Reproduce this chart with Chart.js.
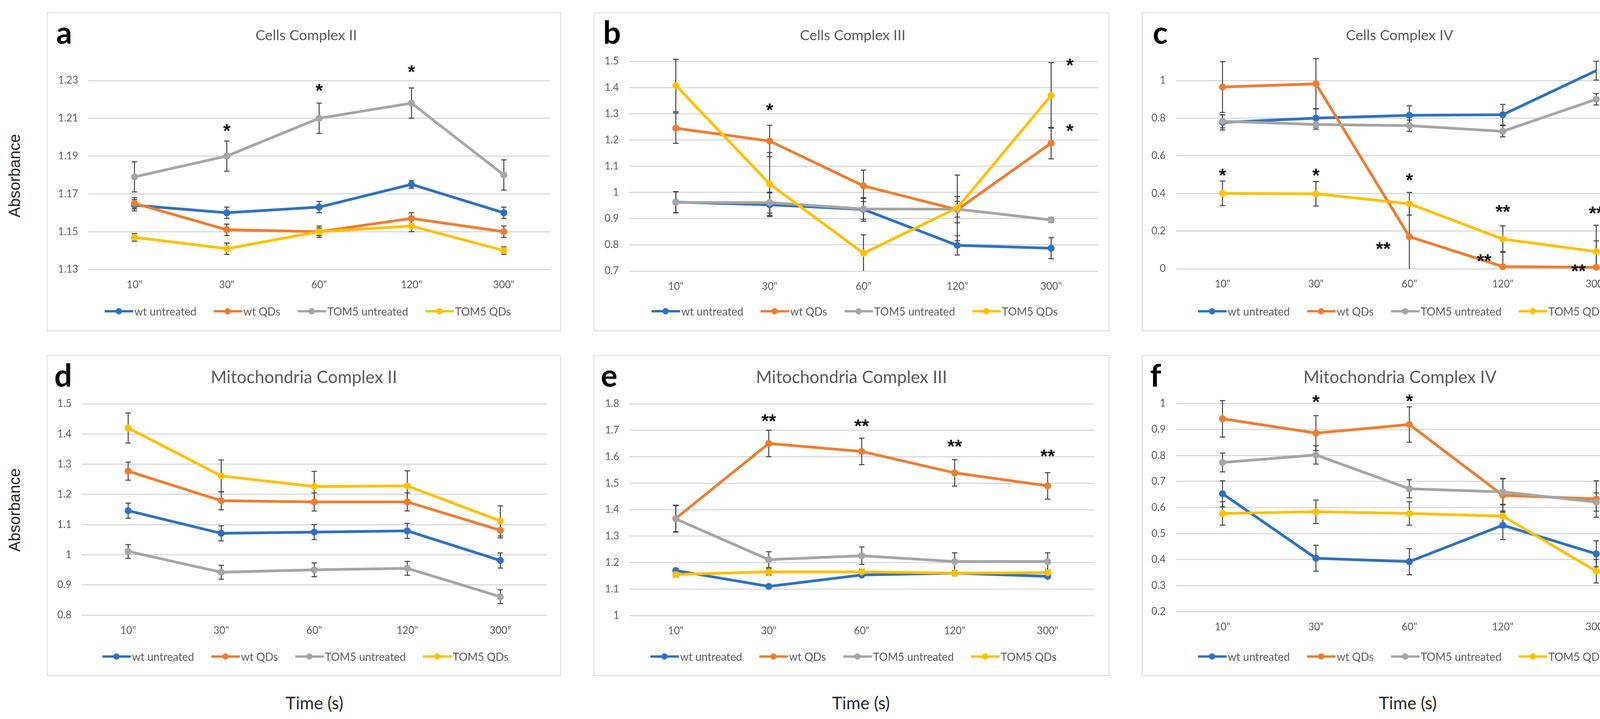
<!DOCTYPE html>
<html>
<head>
<meta charset="utf-8">
<script src="https://cdn.jsdelivr.net/npm/chart.js@4.4.1/dist/chart.umd.min.js"></script>
<style>
  body { margin: 0; background: #fff; width: 4274px; height: 1841px; position: relative; overflow: hidden; font-family: Lato, "Open Sans", sans-serif; }
  .frame { position: absolute; box-sizing: border-box; border: 2px solid #d9d9d9; }
  .box { position: absolute; }
  .letter { position: absolute; font-weight: bold; font-size: 80px; line-height: 1; color: #000; }
  .title { position: absolute; width: 1000px; text-align: center; line-height: 1; color: #595959; white-space: nowrap; }
  .legend { position: absolute; width: 1300px; height: 30px; display: flex; justify-content: center; align-items: center; font-size: 28px; line-height: 1; color: #595959; white-space: nowrap; }
  .item { display: flex; align-items: center; margin: 0 22px; }
  .sym { position: relative; width: 73px; height: 6px; margin-right: 3px; }
  .sym i { position: absolute; left: 28px; top: -5px; width: 16px; height: 16px; border-radius: 50%; }
  .ylab { position: absolute; width: 400px; height: 40px; line-height: 40px; text-align: center; font-family: "Liberation Sans", Arial, sans-serif; font-size: 40px; color: #262626; transform: rotate(-90deg); }
  .xlab { position: absolute; width: 400px; height: 46px; line-height: 46px; text-align: center; font-size: 44px; color: #262626; }
</style>
</head>
<body>
<script>
// shared
const categories = ['10"', '30"', '60"', '120"', '300"'];
const seriesNames = ['wt untreated', 'wt QDs', 'TOM5 untreated', 'TOM5 QDs'];
const seriesColors = ['#2f71bd', '#ed7d31', '#a5a5a5', '#ffc000'];

// a - Cells Complex II
const aTicks = [1.13, 1.15, 1.17, 1.19, 1.21, 1.23];
const aWt = [1.164, 1.160, 1.163, 1.175, 1.160];
const aWtErr = [0.003, 0.003, 0.003, 0.002, 0.003];
const aWtQD = [1.165, 1.151, 1.150, 1.157, 1.150];
const aWtQDErr = [0.003, 0.003, 0.002, 0.003, 0.003];
const aTom = [1.179, 1.190, 1.210, 1.218, 1.180];
const aTomErr = [0.008, 0.008, 0.008, 0.008, 0.008];
const aTomQD = [1.147, 1.141, 1.150, 1.153, 1.140];
const aTomQDErr = [0.002, 0.003, 0.003, 0.003, 0.002];
const aStars = [[1, 1.2056, '*'], [2, 1.2269, '*'], [3, 1.2369, '*']];

// b - Cells Complex III
const bTicks = [0.7, 0.8, 0.9, 1, 1.1, 1.2, 1.3, 1.4, 1.5];
const bWt = [0.963, 0.953, 0.935, 0.798, 0.787];
const bWtErr = [0.04, 0.045, 0.045, 0.037, 0.04];
const bWtQD = [1.245, 1.196, 1.025, 0.934, 1.188];
const bWtQDErr = [0.058, 0.06, 0.06, 0.05, 0.06];
const bTom = [0.962, 0.961, 0.937, 0.936, 0.895];
const bTomErr = [0.04, 0.04, 0.04, 0.03, 0.01];
const bTomQD = [1.408, 1.032, 0.768, 0.941, 1.370];
const bTomQDErr = [0.1, 0.12, 0.07, 0.125, 0.125];
const bStars = [[1, 1.330, '*'], [4, 1.5015, '*', 0.2], [4, 1.251, '*', 0.2]];

// c - Cells Complex IV
const cTicks = [0, 0.2, 0.4, 0.6, 0.8, 1];
const cWt = [0.777, 0.800, 0.815, 0.818, 1.052];
const cWtErr = [0.04, 0.05, 0.05, 0.055, 0.05];
const cWtQD = [0.965, 0.982, 0.170, 0.011, 0.008];
const cWtQDErr = [0.135, 0.134, 0.17, 0.08, 0.14];
const cTom = [0.783, 0.766, 0.760, 0.730, 0.900];
const cTomErr = [0.035, 0.025, 0.03, 0.03, 0.03];
const cTomQD = [0.400, 0.398, 0.345, 0.157, 0.091];
const cTomQDErr = [0.065, 0.065, 0.06, 0.07, 0.14];
const cStars = [[0, 0.519, '*'], [1, 0.519, '*'], [2, 0.494, '*'], [3, 0.326, '**'], [4, 0.318, '**'],
                [2, 0.129, '**', -0.28], [3, 0.064, '**', -0.2], [4, 0.01, '**', -0.19]];

// d - Mitochondria Complex II
const dTicks = [0.8, 0.9, 1, 1.1, 1.2, 1.3, 1.4, 1.5];
const dWt = [1.146, 1.071, 1.075, 1.079, 0.981];
const dWtErr = [0.025, 0.025, 0.025, 0.025, 0.025];
const dWtQD = [1.277, 1.179, 1.175, 1.175, 1.081];
const dWtQDErr = [0.03, 0.03, 0.03, 0.03, 0.025];
const dTom = [1.011, 0.942, 0.950, 0.955, 0.861];
const dTomErr = [0.023, 0.023, 0.023, 0.023, 0.023];
const dTomQD = [1.420, 1.261, 1.226, 1.228, 1.112];
const dTomQDErr = [0.05, 0.053, 0.05, 0.05, 0.05];
const dStars = [];

// e - Mitochondria Complex III
const eTicks = [1, 1.1, 1.2, 1.3, 1.4, 1.5, 1.6, 1.7, 1.8];
const eWt = [1.170, 1.110, 1.153, 1.160, 1.148];
const eWtErr = [0.008, 0.005, 0.005, 0.005, 0.005];
const eWtQD = [1.367, 1.650, 1.620, 1.539, 1.490];
const eWtQDErr = [0.05, 0.05, 0.05, 0.05, 0.05];
const eTom = [1.365, 1.211, 1.226, 1.204, 1.204];
const eTomErr = [0.05, 0.03, 0.033, 0.033, 0.033];
const eTomQD = [1.155, 1.165, 1.165, 1.160, 1.162];
const eTomQDErr = [0.01, 0.012, 0.01, 0.01, 0.01];
const eStars = [[1, 1.752, '**'], [2, 1.732, '**'], [3, 1.655, '**'], [4, 1.618, '**']];

// f - Mitochondria Complex IV
const fTicks = [0.2, 0.3, 0.4, 0.5, 0.6, 0.7, 0.8, 0.9, 1];
const fWt = [0.653, 0.405, 0.392, 0.532, 0.422];
const fWtErr = [0.05, 0.05, 0.05, 0.055, 0.05];
const fWtQD = [0.941, 0.886, 0.919, 0.647, 0.633];
const fWtQDErr = [0.07, 0.067, 0.068, 0.065, 0.07];
const fTom = [0.773, 0.802, 0.672, 0.660, 0.621];
const fTomErr = [0.036, 0.035, 0.035, 0.05, 0.035];
const fTomQD = [0.577, 0.584, 0.577, 0.567, 0.355];
const fTomQDErr = [0.045, 0.045, 0.045, 0.045, 0.045];
const fStars = [[1, 1.0225, '*'], [2, 1.026, '*']];

// page layout (frame box, plot box, title/legend centres)
const panels = [
  { letter: 'a', title: 'Cells Complex II', frame: [120, 32, 1436, 848], plot: [226, 206, 1408, 690], tx: 784, lx: 788, letterX: 144,
    ticks: aTicks, vals: [aWt, aWtQD, aTom, aTomQD], errs: [aWtErr, aWtQDErr, aTomErr, aTomQDErr], stars: aStars },
  { letter: 'b', title: 'Cells Complex III', frame: [1520, 32, 2840, 848], plot: [1610, 157, 2811, 694], tx: 2183, lx: 2188, letterX: 1544,
    ticks: bTicks, vals: [bWt, bWtQD, bTom, bTomQD], errs: [bWtErr, bWtQDErr, bTomErr, bTomQDErr], stars: bStars },
  { letter: 'c', title: 'Cells Complex IV', frame: [2923, 32, 4244, 848], plot: [3010, 206, 4206, 688], tx: 3583, lx: 3587, letterX: 2951,
    ticks: cTicks, vals: [cWt, cWtQD, cTom, cTomQD], errs: [cWtErr, cWtQDErr, cTomErr, cTomQDErr], stars: cStars },
  { letter: 'd', title: 'Mitochondria Complex II', frame: [120, 909, 1436, 1731], plot: [209, 1034, 1400, 1575], tx: 778, lx: 782, letterX: 139,
    ticks: dTicks, vals: [dWt, dWtQD, dTom, dTomQD], errs: [dWtErr, dWtQDErr, dTomErr, dTomQDErr], stars: dStars },
  { letter: 'e', title: 'Mitochondria Complex III', frame: [1520, 909, 2840, 1731], plot: [1611, 1034, 2801, 1576], tx: 2180, lx: 2185, letterX: 1538,
    ticks: eTicks, vals: [eWt, eWtQD, eTom, eTomQD], errs: [eWtErr, eWtQDErr, eTomErr, eTomQDErr], stars: eStars },
  { letter: 'f', title: 'Mitochondria Complex IV', frame: [2923, 909, 4244, 1731], plot: [3010, 1033, 4206, 1566], tx: 3584, lx: 3587, letterX: 2944,
    ticks: fTicks, vals: [fWt, fWtQD, fTom, fTomQD], errs: [fWtErr, fWtQDErr, fTomErr, fTomQDErr], stars: fStars }
];

const tickFont = { family: 'Lato', size: 26 };
// y scale box must be wide enough, chart.js clips tick labels to it
const AXW = 85, AXH = 60;

function el(cls, css, text) {
  const d = document.createElement('div');
  d.className = cls;
  Object.assign(d.style, css);
  if (text) d.textContent = text;
  document.body.appendChild(d);
  return d;
}

function makePanel(p) {
  const [fl, ft, fr, fb] = p.frame;
  const [pl, pt, pr, pb] = p.plot;
  const w = fr - fl, h = fb - ft;
  const top = ft < 500;

  el('frame', { left: fl + 'px', top: ft + 'px', width: w + 'px', height: h + 'px' });
  const box = el('box', { left: fl + 'px', top: ft + 'px', width: w + 'px', height: h + 'px' });
  const cv = document.createElement('canvas');
  cv.width = w; cv.height = h;
  cv.style.width = w + 'px'; cv.style.height = h + 'px';
  box.appendChild(cv);

  el('letter', { left: p.letterX + 'px', top: (top ? 41 : 919) + 'px' }, p.letter);
  // bottom row titles are set larger in the figure
  const ts = top ? 37 : 44;
  el('title', { left: (p.tx - 500) + 'px', top: ((top ? 90 : 965) - ts * 0.53) + 'px', fontSize: ts + 'px' }, p.title);

  const lg = el('legend', { left: (p.lx - 650) + 'px', top: ((top ? 797 : 1681) - 15) + 'px' });
  seriesNames.forEach((n, i) => {
    const it = document.createElement('div');
    it.className = 'item';
    it.innerHTML = '<span class="sym" style="background:' + seriesColors[i] + '"><i style="background:' + seriesColors[i] + '"></i></span><span>' + n + '</span>';
    lg.appendChild(it);
  });

  const errorBars = {
    id: 'errorBars',
    beforeDatasetsDraw(chart) {
      const ctx = chart.ctx, y = chart.scales.y, area = chart.chartArea;
      ctx.save();
      ctx.strokeStyle = '#404040';
      ctx.lineWidth = 2.5;
      p.vals.forEach((vals, i) => {
        const meta = chart.getDatasetMeta(i);
        vals.forEach((v, j) => {
          const x = meta.data[j].x;
          const y1 = y.getPixelForValue(v + p.errs[i][j]);
          const y2 = Math.min(y.getPixelForValue(v - p.errs[i][j]), area.bottom);
          ctx.beginPath();
          ctx.moveTo(x, y1); ctx.lineTo(x, y2);
          ctx.moveTo(x - 7, y1); ctx.lineTo(x + 7, y1);
          if (y2 < area.bottom) { ctx.moveTo(x - 7, y2); ctx.lineTo(x + 7, y2); }
          ctx.stroke();
        });
      });
      ctx.restore();
    }
  };

  const stars = {
    id: 'stars',
    afterDatasetsDraw(chart) {
      const ctx = chart.ctx;
      ctx.save();
      ctx.font = 'bold 48px "Liberation Sans"';
      ctx.fillStyle = '#111';
      ctx.textAlign = 'center';
      ctx.textBaseline = 'alphabetic';
      p.stars.forEach(s => {
        const x = chart.scales.x.getPixelForValue(s[0] + (s[3] || 0));
        const yy = chart.scales.y.getPixelForValue(s[1]);
        ctx.fillText(s[2], x, yy + 27);
      });
      ctx.restore();
    }
  };

  new Chart(cv, {
    type: 'line',
    data: {
      labels: categories,
      datasets: p.vals.map((vals, i) => ({
        label: seriesNames[i],
        data: vals,
        borderColor: seriesColors[i],
        backgroundColor: seriesColors[i],
        pointBackgroundColor: seriesColors[i],
        pointBorderColor: seriesColors[i],
        borderWidth: 7,
        pointRadius: 9,
        pointBorderWidth: 0,
        tension: 0,
        clip: false,
        order: 4 - i
      }))
    },
    options: {
      responsive: false,
      animation: false,
      devicePixelRatio: 1,
      layout: { padding: { left: pl - fl - AXW, right: fr - pr, top: pt - ft, bottom: fb - pb - AXH } },
      plugins: { legend: { display: false }, title: { display: false }, tooltip: { enabled: false } },
      scales: {
        x: {
          offset: true,
          grid: { display: false, drawTicks: false },
          border: { display: false },
          ticks: { font: tickFont, color: '#595959', padding: 24, maxRotation: 0 },
          afterFit: s => { s.height = AXH; }
        },
        y: {
          min: p.ticks[0],
          max: p.ticks[p.ticks.length - 1],
          afterBuildTicks: s => { s.ticks = p.ticks.map(v => ({ value: v })); },
          grid: { color: '#d9d9d9', lineWidth: 3, drawTicks: false },
          border: { display: false },
          ticks: { font: tickFont, color: '#595959', padding: 26, callback: v => String(v) },
          afterFit: s => { s.width = AXW; }
        }
      }
    },
    plugins: [errorBars, stars]
  });
}

panels.forEach(makePanel);

el('ylab', { left: (37 - 200) + 'px', top: (450 - 20) + 'px' }, 'Absorbance');
el('ylab', { left: (37 - 200) + 'px', top: (1306 - 20) + 'px' }, 'Absorbance');
[805, 2204, 3604].forEach(x => el('xlab', { left: (x - 200) + 'px', top: (1799 - 23) + 'px' }, 'Time (s)'));
</script>
</body>
</html>
